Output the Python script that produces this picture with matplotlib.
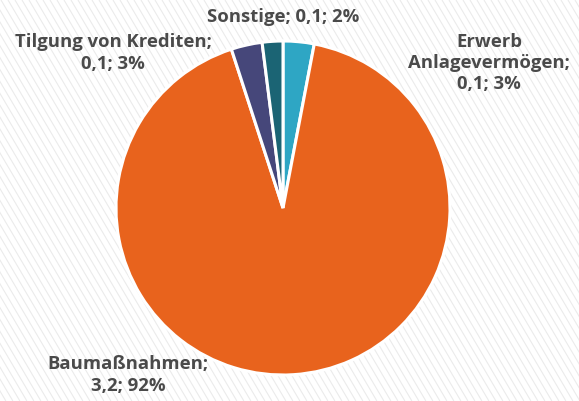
import matplotlib
matplotlib.use("Agg")
import matplotlib.pyplot as plt
import numpy as np
from matplotlib.collections import LineCollection

categories = ["Erwerb\nAnlagevermögen", "Baumaßnahmen", "Tilgung von Krediten", "Sonstige"]
values = [0.1, 3.2, 0.1, 0.1]
value_labels = ["0,1", "3,2", "0,1", "0,1"]
percents = [3, 92, 3, 2]
colors = ["#2ea6c4", "#e8631d", "#46477a", "#1b6474"]

W, H = 579, 401
fig = plt.figure(figsize=(W / 100, H / 100), dpi=100)
fig.patch.set_facecolor("white")

# faint diagonal background stripes
bg = fig.add_axes([0, 0, 1, 1])
bg.set_xlim(0, W)
bg.set_ylim(0, H)
bg.axis("off")
segs = []
slope = 1.7
for x0 in np.arange(-300, W + 300, 7.0):
    segs.append([(x0, H), (x0 + H / slope, 0)])
bg.add_collection(LineCollection(segs, colors="#ebebeb", linewidths=0.8))

ax = fig.add_axes([0, 0, 1, 1])
ax.set_xlim(0, W)
ax.set_ylim(0, H)
ax.axis("off")
ax.patch.set_alpha(0)

cx, cy, r = 283, H - 208, 167
ax.pie(percents, colors=colors, startangle=90, counterclock=False,
       center=(cx, cy), radius=r,
       wedgeprops=dict(edgecolor="white", linewidth=2.2))
ax.set_xlim(0, W)
ax.set_ylim(0, H)
ax.set_aspect("equal")

txt = dict(fontfamily=["Open Sans", "DejaVu Sans"], fontweight="bold", fontsize=13.3,
           color="#4a4a4a", ha="center", va="center", linespacing=1.22)

labels = [f"{c};\n{v}; {p}%" for c, v, p in zip(categories, value_labels, percents)]
labels[3] = f"{categories[3]}; {value_labels[3]}; {percents[3]}%"
positions = [(489, H - 63), (128, H - 375), (113, H - 53), (283, H - 17)]
for lab, (x, y) in zip(labels, positions):
    ax.text(x, y, lab, **txt)

fig.savefig("out.png", dpi=100, facecolor="white")
